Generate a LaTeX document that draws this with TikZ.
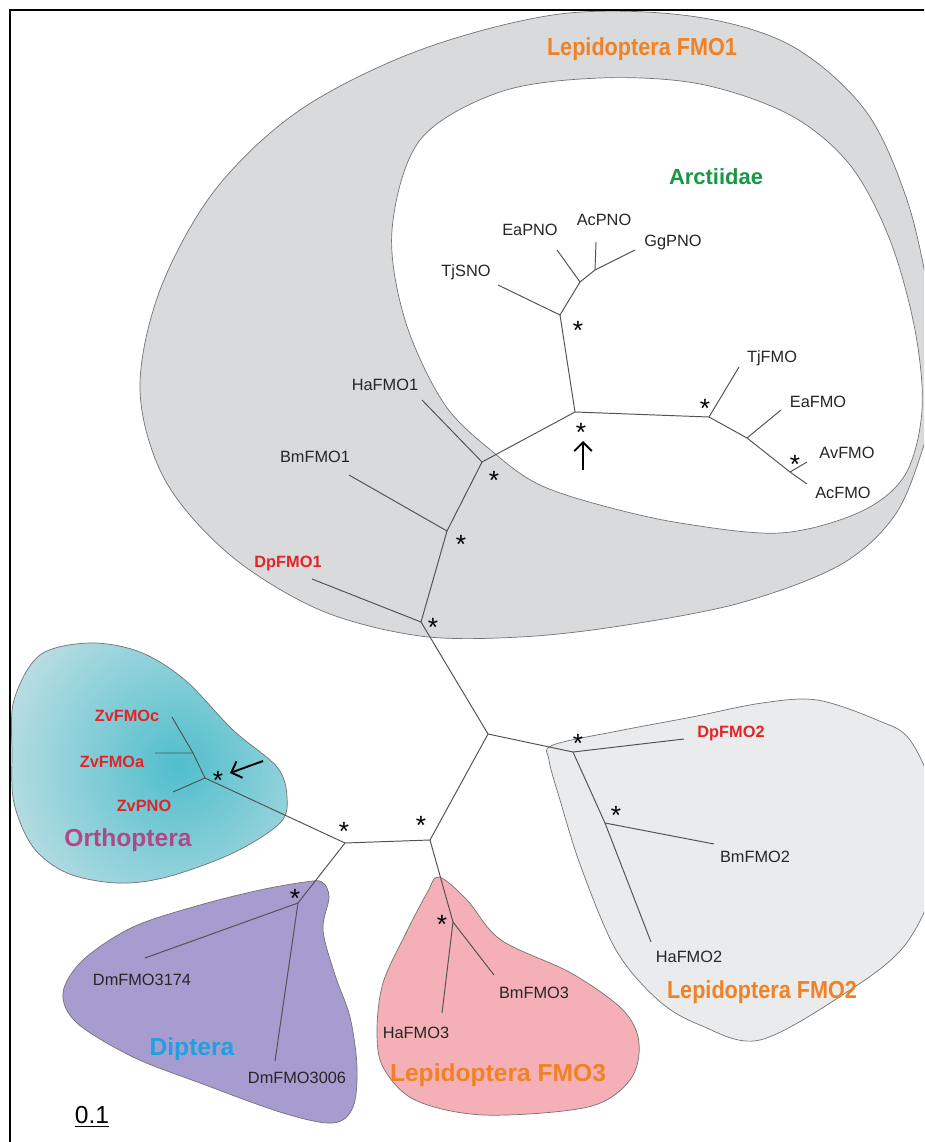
\documentclass[tikz,border=0pt]{standalone}
\usepackage{fontspec}
\setmainfont{Liberation Sans}
\usepackage{graphicx}
\usetikzlibrary{arrows.meta, positioning}

\definecolor{lepiorange}{RGB}{240,130,35}
\definecolor{arctgreen}{RGB}{25,150,70}
\definecolor{leafred}{RGB}{228,35,40}
\definecolor{orthmag}{RGB}{176,72,132}
\definecolor{diptblue}{RGB}{30,160,225}
\definecolor{fmoonegray}{RGB}{217,218,219}
\definecolor{fmotwogray}{RGB}{233,235,236}
\definecolor{orthin}{RGB}{80,190,204}
\definecolor{orthout}{RGB}{214,230,233}
\definecolor{diptfill}{RGB}{166,156,208}
\definecolor{lepthreefill}{RGB}{244,176,182}

\begin{document}
\begin{tikzpicture}[
        x=0.02cm, y=-0.02cm,
        branch/.style={draw=black!68, line width=0.55pt},
        blob/.style={draw=black!55, line width=0.4pt},
        leaf/.style={font=\fontsize{9.3}{11}\selectfont, inner sep=0pt, text depth=0pt, text=black!85},
        redleaf/.style={leaf, font=\fontsize{9.3}{11}\selectfont\bfseries, text=leafred},
        group/.style={font=\fontsize{14}{16}\selectfont\bfseries, inner sep=0pt, text depth=0pt},
        ast/.style={font=\fontsize{15}{15}\selectfont, inner sep=0pt, yshift=-3.3pt},
        pointer/.style={-{Straight Barb[length=5pt,width=10pt]}, line width=1.1pt}
    ]
    \useasboundingbox (0,0) rectangle (924,1142);
    \clip (0,0) rectangle (924,1142);

    % Lepidoptera FMO1 area with the Arctiidae hole
    \draw[blob, fill=fmoonegray] plot[smooth cycle, tension=0.55] coordinates {
        (140,390) (160,290) (215,190) (300,110) (420,50) (560,14) (690,16) (790,45)
        (865,110) (907,200) (930,300) (940,380) (924,445) (895,515) (840,565) (740,603)
        (620,626) (520,637) (420,636) (320,610) (230,555) (165,480)};
    \draw[blob, fill=white] plot[smooth cycle, tension=0.55] coordinates {
        (392,230) (420,140) (500,92) (600,78) (700,84) (790,115) (850,165) (890,240)
        (915,330) (922,410) (905,475) (860,512) (780,533) (680,523) (600,505) (540,485)
        (499,457) (445,405) (405,320)};

    % Lepidoptera FMO2 area
    \draw[blob, fill=fmotwogray] plot[smooth cycle, tension=0.55] coordinates {
        (553,745) (623,730) (692,717) (762,703) (817,700) (877,720) (910,740) (935,800)
        (935,880) (905,945) (850,990) (760,1040) (700,1025) (658,1000) (616,950)
        (581,867) (560,800) (549,760)};

    % Lepidoptera FMO3 area
    \draw[blob, fill=lepthreefill] plot[smooth cycle, tension=0.55] coordinates {
        (439,877) (467,900) (501,940) (571,973) (623,1010) (639,1043) (630,1080) (588,1107)
        (484,1115) (415,1100) (383,1067) (377,1030) (383,983) (405,935) (427,893)};

    % Diptera area
    \draw[blob, fill=diptfill] plot[smooth cycle, tension=0.55] coordinates {
        (322,882) (329,897) (323,930) (335,975) (350,1017) (357,1067) (353,1107) (333,1123)
        (283,1113) (200,1083) (133,1057) (77,1023) (63,993) (83,960) (133,927) (200,905)
        (260,890) (305,882)};

    % Orthoptera area
    \begin{scope}
        \clip plot[smooth cycle, tension=0.55] coordinates {
            (14,700) (40,655) (90,643) (140,652) (185,680) (233,730) (277,767) (287,797)
            (280,823) (233,853) (167,877) (117,883) (67,873) (33,847) (14,803) (12,753)};
        \fill[orthout] (0,600) rectangle (320,900);
        \shade[inner color=orthin, outer color=orthout] (178,765) circle (230);
    \end{scope}
    \draw[blob] plot[smooth cycle, tension=0.55] coordinates {
        (14,700) (40,655) (90,643) (140,652) (185,680) (233,730) (277,767) (287,797)
        (280,823) (233,853) (167,877) (117,883) (67,873) (33,847) (14,803) (12,753)};

    % Tree junctions
    \coordinate (arcstem) at (560,315);
    \coordinate (pnoa) at (580,282);
    \coordinate (pnob) at (595,270);
    \coordinate (arcroot) at (575,412);
    \coordinate (fmoa) at (709,417);
    \coordinate (fmob) at (747,438);
    \coordinate (fmoc) at (790,472);
    \coordinate (lepha) at (482,462);
    \coordinate (lepbm) at (447,531);
    \coordinate (lepdp) at (421,622);
    \coordinate (hubtop) at (488,734);
    \coordinate (leptwo) at (573,752);
    \coordinate (leptwobm) at (605,823);
    \coordinate (hubmid) at (430,840);
    \coordinate (hubleft) at (345,843);
    \coordinate (orthroot) at (205,778);
    \coordinate (orthsub) at (193,753);
    \coordinate (diptroot) at (298,903);
    \coordinate (lepthree) at (453,922);

    % Tree tips
    \coordinate (tjsno) at (498,285);
    \coordinate (eapno) at (557,250);
    \coordinate (acpno) at (596,242);
    \coordinate (ggpno) at (635,250);
    \coordinate (tjfmo) at (739,367);
    \coordinate (eafmo) at (781,410);
    \coordinate (avfmo) at (807,462);
    \coordinate (acfmo) at (807,484);
    \coordinate (hafmoone) at (422,400);
    \coordinate (bmfmoone) at (349,475);
    \coordinate (dpfmoone) at (312,579);
    \coordinate (dpfmotwo) at (684,739);
    \coordinate (bmfmotwo) at (714,844);
    \coordinate (hafmotwo) at (651,942);
    \coordinate (zvpno) at (173,792);
    \coordinate (zvfmoa) at (155,753);
    \coordinate (zvfmoc) at (172,717);
    \coordinate (dmfmoa) at (145,958);
    \coordinate (dmfmob) at (275,1061);
    \coordinate (hafmothree) at (442,1013);
    \coordinate (bmfmothree) at (494,975);

    % Branches
    \draw[branch] (tjsno) -- (arcstem) -- (pnoa) -- (eapno);
    \draw[branch] (pnoa) -- (pnob) -- (acpno);
    \draw[branch] (pnob) -- (ggpno);
    \draw[branch] (arcstem) -- (arcroot) -- (fmoa) -- (tjfmo);
    \draw[branch] (fmoa) -- (fmob) -- (fmoc) -- (acfmo);
    \draw[branch] (fmob) -- (eafmo);
    \draw[branch] (fmoc) -- (avfmo);
    \draw[branch] (arcroot) -- (lepha) -- (hafmoone);
    \draw[branch] (lepha) -- (lepbm) -- (bmfmoone);
    \draw[branch] (lepbm) -- (lepdp) -- (dpfmoone);
    \draw[branch] (lepdp) -- (hubtop) -- (leptwo) -- (dpfmotwo);
    \draw[branch] (leptwo) -- (leptwobm) -- (hafmotwo);
    \draw[branch] (leptwobm) -- (bmfmotwo);
    \draw[branch] (hubtop) -- (hubmid) -- (hubleft) -- (orthroot) -- (zvpno);
    \draw[branch] (orthroot) -- (orthsub) -- (zvfmoa);
    \draw[branch] (orthsub) -- (zvfmoc);
    \draw[branch] (hubleft) -- (diptroot) -- (dmfmoa);
    \draw[branch] (diptroot) -- (dmfmob);
    \draw[branch] (hubmid) -- (lepthree) -- (hafmothree);
    \draw[branch] (lepthree) -- (bmfmothree);

    % Leaf labels
    \node[leaf] (tjsnolab) at (466,271) {TjSNO};
    \node[leaf] (eapnolab) at (530,230) {EaPNO};
    \node[leaf] (acpnolab) at (604,220) {AcPNO};
    \node[leaf] (ggpnolab) at (673,241) {GgPNO};
    \node[leaf] (tjfmolab) at (772,357) {TjFMO};
    \node[leaf] (eafmolab) at (818,402) {EaFMO};
    \node[leaf] (avfmolab) at (847,453) {AvFMO};
    \node[leaf] (acfmolab) at (843,493) {AcFMO};
    \node[leaf] (hafmoonelab) at (385,385) {HaFMO1};
    \node[leaf] (bmfmoonelab) at (315,457) {BmFMO1};
    \node[redleaf] (dpfmoonelab) at (288,562) {DpFMO1};
    \node[redleaf] (dpfmotwolab) at (731,732) {DpFMO2};
    \node[leaf] (bmfmotwolab) at (755,857) {BmFMO2};
    \node[leaf] (hafmotwolab) at (689,957) {HaFMO2};
    \node[redleaf] (zvfmoclab) at (127,716) {ZvFMOc};
    \node[redleaf] (zvfmoalab) at (112,762) {ZvFMOa};
    \node[redleaf] (zvpnolab) at (144,806) {ZvPNO};
    \node[leaf] (dmfmoalab) at (142,980) {DmFMO3174};
    \node[leaf] (dmfmoblab) at (297,1078) {DmFMO3006};
    \node[leaf] (hafmothreelab) at (416,1033) {HaFMO3};
    \node[leaf] (bmfmothreelab) at (534,993) {BmFMO3};

    % Support marks
    \node[ast] (astarcstem) at (578,325) {*};
    \node[ast] (astarcroot) at (581,427) {*};
    \node[ast] (astfmoa) at (705,403) {*};
    \node[ast] (astfmoc) at (795,459) {*};
    \node[ast] (astlepha) at (494,475) {*};
    \node[ast] (astlepbm) at (461,539) {*};
    \node[ast] (astlepdp) at (433,622) {*};
    \node[ast] (astleptwo) at (578,738) {*};
    \node[ast] (astleptwobm) at (616,810) {*};
    \node[ast] (asthubmid) at (421,820) {*};
    \node[ast] (asthubleft) at (344,826) {*};
    \node[ast] (astorth) at (218,775) {*};
    \node[ast] (astdipt) at (295,893) {*};
    \node[ast] (astlepthree) at (442,919) {*};

    % Group labels
    \node[group, text=lepiorange] (lepone) at (642,47) {\scalebox{0.88}[1]{Lepidoptera FMO1}};
    \node[group, text=arctgreen, font=\fontsize{12.5}{14}\selectfont\bfseries] (arct) at (716,177) {Arctiidae};
    \node[group, text=lepiorange] (leptwolab) at (762,990) {\scalebox{0.88}[1]{Lepidoptera FMO2}};
    \node[group, text=lepiorange] (lepthreelab) at (498,1073) {Lepidoptera FMO3};
    \node[group, text=orthmag] (orth) at (128,838) {Orthoptera};
    \node[group, text=diptblue] (dipt) at (192,1047) {Diptera};
    \node[font=\fontsize{14}{16}\selectfont, inner sep=0pt] (scalebar) at (92,1117) {\underline{0.1}};

    % Arrows to the highlighted nodes
    \coordinate (uparrowfoot) at (583,470);
    \coordinate (uparrowtip) at (583,441);
    \coordinate (leftarrowfoot) at (263,761);
    \coordinate (leftarrowtip) at (230,773);
    \draw[pointer] (uparrowfoot) -- (uparrowtip);
    \draw[pointer] (leftarrowfoot) -- (leftarrowtip);

    % Frame
    \draw[line width=1pt] (10,1150) -- (10,10) -- (930,10);

\end{tikzpicture}
\end{document}
